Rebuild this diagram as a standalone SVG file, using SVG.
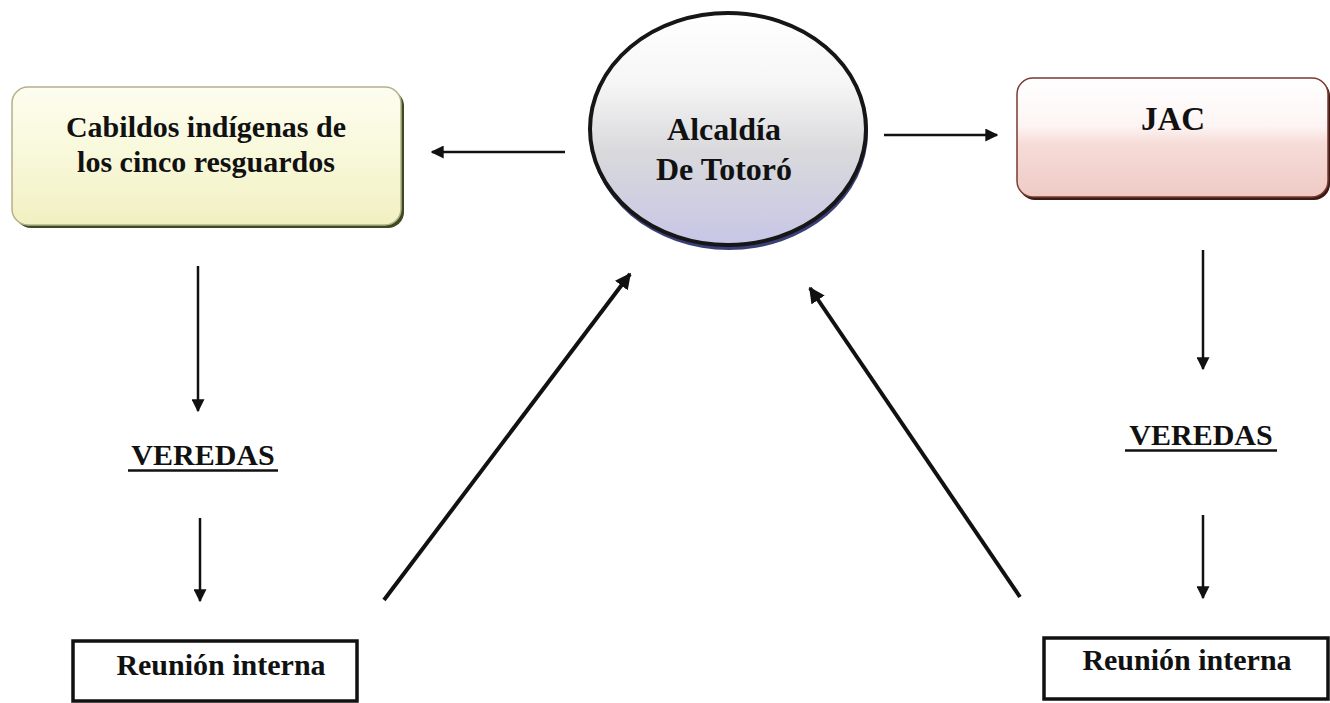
<svg xmlns="http://www.w3.org/2000/svg" width="1330" height="703" viewBox="0 0 1330 703">
<defs>
<linearGradient id="gYellow" x1="0" y1="0" x2="0" y2="1">
<stop offset="0" stop-color="#fdfdf0"/>
<stop offset="0.5" stop-color="#f8f8da"/>
<stop offset="1" stop-color="#f1f0c2"/>
</linearGradient>
<linearGradient id="gPink" x1="0" y1="0" x2="0" y2="1">
<stop offset="0" stop-color="#ffffff"/>
<stop offset="0.4" stop-color="#fdf5f4"/>
<stop offset="0.55" stop-color="#f6dcd8"/>
<stop offset="1" stop-color="#efcac5"/>
</linearGradient>
<linearGradient id="gCircle" x1="0" y1="0" x2="0" y2="1">
<stop offset="0" stop-color="#ffffff"/>
<stop offset="0.3" stop-color="#f6f6f6"/>
<stop offset="0.6" stop-color="#d9d9dc"/>
<stop offset="1" stop-color="#c7c6e6"/>
</linearGradient>
<marker id="ah" viewBox="0 0 10 10" refX="9" refY="5" markerWidth="16" markerHeight="16" markerUnits="userSpaceOnUse" orient="auto">
<path d="M0,0 L10,5 L0,10 z" fill="#111"/>
</marker>
<marker id="ahs" viewBox="0 0 10 10" refX="9" refY="5" markerWidth="13" markerHeight="13" markerUnits="userSpaceOnUse" orient="auto">
<path d="M0,0 L10,5 L0,10 z" fill="#111"/>
</marker>
</defs>
<style>
.t{font-family:"Liberation Serif","Times New Roman",serif;font-weight:bold;fill:#111;text-anchor:middle}
.c{stroke:#111;fill:none}
</style>
<rect width="1330" height="703" fill="#ffffff"/>

<g id="cabildos">
<rect x="15" y="90" width="389" height="138" rx="16" fill="#3d4a22"/>
<rect x="12" y="87" width="389" height="138" rx="16" fill="url(#gYellow)" stroke="#b5b08a" stroke-width="1.5"/>
<text class="t" x="206" y="137" font-size="30">Cabildos indígenas de</text>
<text class="t" x="206" y="172" font-size="30">los cinco resguardos</text>
</g>

<g id="alcaldia">
<ellipse cx="729" cy="132" rx="139" ry="118" fill="#3a3f78"/>
<ellipse cx="728" cy="129" rx="138" ry="116" fill="url(#gCircle)" stroke="#161616" stroke-width="4"/>
<text class="t" x="724" y="140" font-size="32">Alcaldía</text>
<text class="t" x="724" y="180" font-size="32">De Totoró</text>
</g>

<g id="jac">
<rect x="1019" y="80" width="311" height="120" rx="16" fill="#3a1a14"/>
<rect x="1017" y="78" width="311" height="119" rx="16" fill="url(#gPink)" stroke="#7a3a30" stroke-width="1.5"/>
<text class="t" x="1173" y="130" font-size="33">JAC</text>
</g>

<g id="veredas-left">
<text class="t" x="203" y="465" font-size="30">VEREDAS</text>
<line x1="128" y1="470.5" x2="278" y2="470.5" stroke="#111" stroke-width="2.5"/>
</g>

<g id="veredas-right">
<text class="t" x="1201" y="445" font-size="30">VEREDAS</text>
<line x1="1125" y1="450.5" x2="1277" y2="450.5" stroke="#111" stroke-width="2.5"/>
</g>

<g id="reunion-left">
<rect x="73" y="641" width="284" height="60" fill="#ffffff" stroke="#111" stroke-width="3.5"/>
<text class="t" x="221" y="675" font-size="30">Reunión interna</text>
</g>

<g id="reunion-right">
<rect x="1044" y="638" width="284" height="61" fill="#ffffff" stroke="#111" stroke-width="3.5"/>
<text class="t" x="1187" y="670" font-size="30">Reunión interna</text>
</g>

<g id="connectors">
<line class="c" x1="565" y1="152" x2="432" y2="152" stroke-width="2.5" marker-end="url(#ahs)"/>
<line class="c" x1="884" y1="135" x2="997" y2="135" stroke-width="2.5" marker-end="url(#ahs)"/>
<line class="c" x1="198" y1="266" x2="198" y2="411" stroke-width="2.5" marker-end="url(#ahs)"/>
<line class="c" x1="200" y1="518" x2="200" y2="601" stroke-width="2.5" marker-end="url(#ahs)"/>
<line class="c" x1="1203" y1="250" x2="1203" y2="369" stroke-width="2.5" marker-end="url(#ahs)"/>
<line class="c" x1="1203" y1="515" x2="1203" y2="598" stroke-width="2.5" marker-end="url(#ahs)"/>
<line class="c" x1="384" y1="600" x2="630" y2="274" stroke-width="4" marker-end="url(#ah)"/>
<line class="c" x1="1020" y1="597" x2="810" y2="288" stroke-width="4" marker-end="url(#ah)"/>
</g>
</svg>
